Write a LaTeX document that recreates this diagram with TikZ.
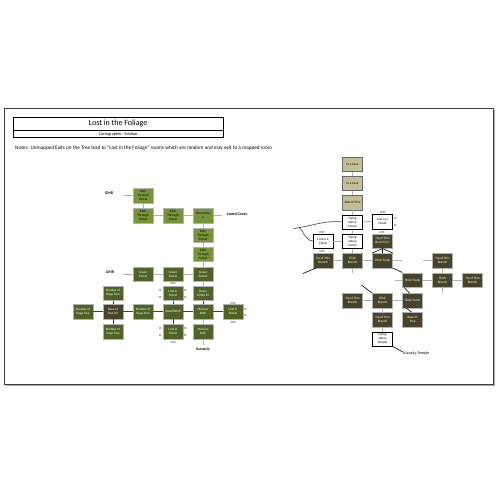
\documentclass[tikz,border=0pt]{standalone}
\usepackage{fontspec}
\setmainfont{Carlito}
\definecolor{pathgreen}{HTML}{77933C}
\definecolor{forestgreen}{HTML}{4F6228}
\definecolor{treebrown}{HTML}{494429}
\definecolor{cavetan}{HTML}{C4BD97}
\begin{document}
\begin{tikzpicture}[x=1pt,y=-1pt,
  box/.style={draw=black!30, line width=0.5pt, minimum width=20pt, minimum height=14.5pt,
    inner sep=0pt, align=center, font=\fontsize{3.3}{3.9}\selectfont},
  lightgreen/.style={box, fill=pathgreen, text=black},
  darkgreen/.style={box, fill=forestgreen, text=white},
  trunk/.style={box, fill=treebrown, text=white},
  cave/.style={box, fill=cavetan, draw=black!60, text=black},
  sky/.style={box, fill=white, draw=black, text=black},
  link/.style={draw=black!30, line width=1pt},
  darklink/.style={draw=black!75, line width=0.8pt},
  blacklink/.style={draw=black, line width=0.6pt},
  exits/.style={font=\fontsize{3.2}{3.2}\selectfont, inner sep=0pt},
  tag/.style={font=\fontsize{4}{4}\selectfont\bfseries\itshape, inner sep=0pt},
  plain/.style={font=\fontsize{4}{4}\selectfont, inner sep=0pt}
]
\useasboundingbox (0,0) rectangle (500,500);

% frame
\draw[line width=0.8pt, black!35] (5.5,385.5) -- (494.5,385.5) -- (494.5,110.5);
\draw[line width=1pt, black!75] (4,108.5) rectangle (493,384);

% header
\node[draw, line width=0.8pt, minimum width=210pt, minimum height=13pt, inner sep=0pt,
  font=\fontsize{8}{8}\selectfont] (title) at (118,123.5) {Lost in the Foliage};
\node[draw, line width=0.8pt, minimum width=210pt, minimum height=7pt, inner sep=0pt,
  anchor=north, font=\fontsize{4.3}{4.3}\selectfont] (sub) at (title.south) {Cartographer: Soldian};
\node[anchor=west, inner sep=0pt, font=\fontsize{5.2}{5.2}\selectfont] (notes) at (15,148)
  {Notes: Unmapped Exits on the Tree lead to "Lost in the Foliage" rooms which are random and may exit to a mapped room};

% ---------------- forest ----------------
\node[lightgreen] (p1) at (143,195.5) {Path\\Through\\Forest};
\node[lightgreen] (p2) at (143,215.5) {Path\\Through\\Forest};
\node[lightgreen] (p3) at (173,215.5) {Path\\Through\\Forest};
\node[lightgreen] (isec) at (203,215.5) {Intersectio\\n};
\node[lightgreen] (p4) at (203,235) {Path\\Through\\Forest};
\node[lightgreen] (p5) at (203,254) {Path\\Through\\Forest};
\node[darkgreen] (g1) at (143,274) {Green\\Forest};
\node[darkgreen] (g2) at (173,274) {Green\\Forest};
\node[darkgreen] (g3) at (203,274) {Green\\Forest};
\node[darkgreen] (sh1) at (113,293) {Shadow of\\Huge Tree};
\node[darkgreen] (lf1) at (173,293) {Lost in\\Forest};
\node[darkgreen] (dewy) at (203,293) {Dewy\\Pollen Ex};
\node[darkgreen] (sh2) at (83,311.5) {Shadow of\\Huge Tree};
\node[trunk] (base1) at (113,311.5) {Base of\\Tree (U)};
\node[darkgreen] (sh3) at (143,311.5) {Shadow of\\Huge Tree};
\node[darkgreen] (patch) at (173,311.5) {Small Patch};
\node[darkgreen] (mp1) at (203,311.5) {Marrow\\Path};
\node[darkgreen] (lf2) at (233,311.5) {Lost in\\Forest};
\node[darkgreen] (sh4) at (113,331.5) {Shadow of\\Huge Tree};
\node[darkgreen] (lf3) at (173,331.5) {Lost in\\Forest};
\node[darkgreen] (mp2) at (203,331.5) {Marrow\\Path};

\node[tag] (gmr1) at (109,193.5) {GMR};
\coordinate (gmr1end) at (123,195.5);
\node[tag] (gmr2) at (110,272.5) {GMR};
\coordinate (gmr2end) at (123,274);
\node[tag] (lizard) at (237,214) {Lizard Caves};
\coordinate (lizardend) at (222,215.5);
\node[plain, font=\fontsize{4}{4}\selectfont\bfseries] (auracity) at (203,349) {Auracity};
\coordinate (auracityend) at (203,345);

\draw[link] (gmr1end) -- (p1);
\draw[link] (p1) -- (p2);
\draw[link] (p2) -- (p3);
\draw[link] (p3) -- (isec);
\draw[link] (isec) -- (lizardend);
\draw[link] (isec) -- (p4);
\draw[link] (p4) -- (p5);
\draw[link] (p5) -- (g3);
\draw[link] (gmr2end) -- (g1);
\draw[link] (g1) -- (g2);
\draw[link] (g2) -- (g3);
\draw[link] (g3) -- (dewy);
\draw[darklink] (dewy) -- (mp1);
\draw[darklink] (sh1) -- (base1);
\draw[darklink] (sh2) -- (base1);
\draw[darklink] (base1) -- (sh3);
\draw[darklink] (base1) -- (sh4);
\draw[darklink] (sh3) -- (patch);
\draw[darklink] (lf1) -- (patch);
\draw[darklink] (patch) -- (lf3);
\draw[darklink] (patch) -- (mp1);
\draw[darklink] (mp1) -- (lf2);
\draw[link] (mp1) -- (mp2);
\draw[link] (mp2) -- (auracityend);

% unmapped exits
\node[exits] (e1) at (173,283.5) {O O};
\node[exits] (e2) at (160.5,290.5) {O};
\node[exits] (e3) at (160.5,297) {O};
\node[exits] (e4) at (185.5,290.5) {O};
\node[exits] (e5) at (185.5,297) {O};
\node[exits] (e6) at (233,303) {O O};
\node[exits] (e7) at (245.5,309) {O};
\node[exits] (e8) at (245.5,315.5) {O};
\node[exits] (e9) at (233,322.5) {O O};
\node[exits] (e10) at (160.5,328.5) {O};
\node[exits] (e11) at (160.5,335) {O};
\node[exits] (e12) at (185.5,328.5) {O};
\node[exits] (e13) at (185.5,335) {O};
\node[exits] (e14) at (173,342.3) {O O};

% ---------------- tree ----------------
\node[cave] (cave1) at (352.5,164) {In a Cave};
\node[cave] (cave2) at (352.5,183) {In a Cave};
\node[cave] (hive) at (352.5,202.5) {Side of Hive};
\node[sky] (fly1) at (352.5,222) {Flying\\above\\Forest};
\node[sky] (cloud1) at (382.5,221.5) {Lost in a\\Cloud};
\node[sky] (cloud2) at (323,241) {Lost in a\\Cloud};
\node[sky] (fly2) at (352.5,241) {Flying\\above\\Forest};
\node[trunk] (tipu) at (382.5,241) {Tip of Thin\\Branch (U)};
\node[trunk] (tip1) at (323,260.5) {Tip of Thin\\Branch};
\node[trunk] (br1) at (352.5,260.5) {Thick\\Branch};
\node[trunk] (tt1) at (382.5,260.5) {Thick Trunk};
\node[trunk] (tip2) at (442.5,260.5) {Tip of Thin\\Branch};
\node[trunk] (tt2) at (412.5,280) {Thick Trunk};
\node[trunk] (br2) at (442.5,280) {Thick\\Branch};
\node[trunk] (tip3) at (472.5,280) {Tip of Thin\\Branch};
\node[trunk] (tip4) at (352.5,300.7) {Tip of Thin\\Branch};
\node[trunk] (br3) at (382.5,300.7) {Thick\\Branch};
\node[trunk] (tt3) at (412.5,300.7) {Thick Trunk};
\node[trunk] (tip5) at (382.5,319.5) {Tip of Thin\\Branch};
\node[trunk] (base2) at (412.5,319.5) {Base of\\Tree};
\node[sky] (flyt) at (382.5,339) {Flying\\above\\Temple};
\node[plain, anchor=north west] (temple) at (403,352) {Auracity Temple};

\coordinate (bend) at (299,227.5);
\coordinate (tail) at (293,229);
\coordinate (tt1stub) at (401.5,260.5);
\coordinate (tip2stub) at (423,260.5);
\coordinate (tt2stub) at (395,280);
\coordinate (br2stub) at (442.5,293);
\coordinate (br1stub) at (352.5,273);
\coordinate (tip1stub) at (303,273.5);
\coordinate (br3stub) at (361.5,285);

\draw[link] (cave1) -- (cave2);
\draw[link] (cave2) -- (hive);
\draw[link] (hive) -- (fly1);
\draw[link] (fly1) -- (cloud1);
\draw[link] (fly1) -- (fly2);
\draw[link] (cloud2) -- (fly2);
\draw[link] (fly2) -- (br1);
\draw[darklink, line width=0.6pt] (fly1.west) .. controls (325,220) and (312,226) .. (bend)
  .. controls (303,229) and (304,240) .. (cloud2.west);
\draw[darklink, line width=0.6pt] (bend) -- (tail);
\draw[blacklink] (tipu.south) -- (tt1.north west);
\draw[blacklink] (tipu.south) -- (tt1.north);
\draw[blacklink] (tipu.south) -- (tt1.north east);
\draw[link] (tip1) -- (br1);
\draw[link] (br1) -- (tt1);
\draw[link] (tt1) -- (tt1stub);
\draw[link] (br1) -- (br1stub);
\draw[blacklink] ([xshift=-7pt]tip1.south) -- (tip1stub);
\draw[link] (tip2stub) -- (tip2);
\draw[link] (tip2) -- (br2);
\draw[link] (tt2stub) -- (tt2);
\draw[link] (tt2) -- (br2);
\draw[link] (br2) -- (tip3);
\draw[link] (br2) -- (br2stub);
\draw[blacklink] (tt1.south east) -- (tt2.north west);
\draw[blacklink] ([xshift=2pt]tt2.south west) -- ([xshift=-3pt]tt3.north);
\draw[blacklink] (br3stub) -- (br3.north west);
\draw[link] (tip4) -- (br3);
\draw[link] (br3) -- (tt3);
\draw[link] (br3) -- (tip5);
\draw[blacklink] ([xshift=4pt]tt3.south west) -- ([xshift=-1pt]base2.north);
\draw[link] (tip5) -- (flyt);
\draw[blacklink] (flyt.south east) -- (temple.north west);

\node[exits] (e15) at (382.5,212.5) {O O};
\node[exits] (e16) at (395.5,218.5) {O};
\node[exits] (e17) at (395.5,225) {O};
\node[exits] (e18) at (322,232) {O O};
\node[exits] (e19) at (382,232) {O O};
\node[exits] (e20) at (322,251) {O O};
\end{tikzpicture}
\end{document}
